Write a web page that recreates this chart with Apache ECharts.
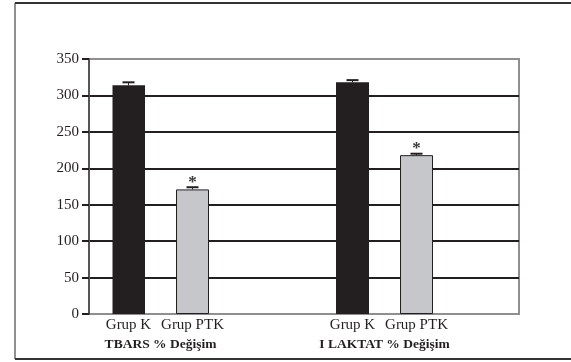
<!DOCTYPE html>
<html>
<head>
<meta charset="utf-8">
<script src="https://cdn.jsdelivr.net/npm/echarts@6/dist/echarts.min.js"></script>
<style>
  html, body { margin: 0; padding: 0; background: #fff; }
  #chart { width: 571px; height: 362px; }
</style>
</head>
<body>
<div id="chart"></div>
<script>
// Percent change per measurement, control vs PTK group
const groupTitles = ["TBARS % Değişim", "I LAKTAT % Değişim"];
const groupNames = ["Grup K", "Grup PTK"];
const tbarsMeans = [314, 171];
const tbarsErrors = [4, 3];
const laktatMeans = [318, 218];
const laktatErrors = [3, 2];
const significant = [[false, true], [false, true]];
const yTicks = [0, 50, 100, 150, 200, 250, 300, 350];

const means = [tbarsMeans, laktatMeans];
const errors = [tbarsErrors, laktatErrors];
const barColors = ["#231f20", "#c6c7cb"];
const ink = "#231f20";
const serif = "'Liberation Serif', 'Times New Roman', serif";

// Slot layout: each group takes bar, gap, bar; groups separated by a wide gap
const slotsPerBar = 2;
const groupStride = 7;
const nSlots = 10;
const slotLabels = new Array(nSlots).fill("");
const slotTitles = new Array(nSlots).fill("");
const barData = new Array(nSlots).fill("-");
const errData = [];
groupTitles.forEach((title, g) => {
  const base = g * groupStride;
  slotTitles[base + 1] = title;
  groupNames.forEach((name, b) => {
    const idx = base + b * slotsPerBar;
    slotLabels[idx] = name;
    barData[idx] = {
      value: means[g][b],
      itemStyle: {
        color: barColors[b],
        borderColor: b === 1 ? ink : barColors[b],
        borderWidth: b === 1 ? 1 : 0
      }
    };
    errData.push([idx, means[g][b], errors[g][b], significant[g][b] ? 1 : 0]);
  });
});

const chart = echarts.init(document.getElementById('chart'), null, { renderer: 'canvas' });

chart.setOption({
  animation: false,
  backgroundColor: '#fff',
  graphic: [
    { type: 'line', shape: { x1: 15, y1: 3, x2: 15, y2: 359 }, style: { stroke: '#6b6b6b', lineWidth: 1.5 } },
    { type: 'line', shape: { x1: 15, y1: 3, x2: 571, y2: 3 }, style: { stroke: '#333', lineWidth: 2 } },
    { type: 'line', shape: { x1: 15, y1: 359, x2: 571, y2: 359 }, style: { stroke: '#333', lineWidth: 2 } }
  ],
  grid: [
    { left: 89, top: 59, right: 52, bottom: 48, show: true, borderColor: '#8f8f8f', borderWidth: 2, backgroundColor: 'transparent' },
    { left: 112.5, top: 59, right: 138.5, bottom: 48 }
  ],
  xAxis: [
    { gridIndex: 0, type: 'value', show: false, min: 0, max: 1 },
    {
      gridIndex: 1, type: 'category', data: slotLabels,
      axisLine: { show: false }, axisTick: { show: false }, splitLine: { show: false },
      axisLabel: { interval: 0, margin: 4, color: ink, fontFamily: serif, fontSize: 15 }
    },
    {
      gridIndex: 1, type: 'category', data: slotTitles, position: 'bottom', offset: 20,
      axisLine: { show: false }, axisTick: { show: false }, splitLine: { show: false },
      axisLabel: { interval: 0, margin: 4, color: ink, fontFamily: serif, fontSize: 13.5, fontWeight: 'bold' }
    }
  ],
  yAxis: [
    {
      gridIndex: 0, type: 'value', min: yTicks[0], max: yTicks[yTicks.length - 1], interval: 50,
      axisLine: { show: true, lineStyle: { color: '#555', width: 2 } },
      axisTick: { show: true, length: 7, lineStyle: { color: ink, width: 2 } },
      axisLabel: { margin: 10, color: ink, fontFamily: serif, fontSize: 15 },
      splitLine: { show: true, showMinLine: false, showMaxLine: false, lineStyle: { color: ink, width: 2 } }
    },
    { gridIndex: 1, type: 'value', min: yTicks[0], max: yTicks[yTicks.length - 1], show: false }
  ],
  series: [
    {
      type: 'bar', xAxisIndex: 1, yAxisIndex: 1, barWidth: 33,
      data: barData, z: 3
    },
    {
      type: 'custom', xAxisIndex: 1, yAxisIndex: 1, z: 4,
      data: errData,
      renderItem: function (params, api) {
        const x = api.value(0);
        const top = api.coord([x, api.value(1) + api.value(2)]);
        const base = api.coord([x, api.value(1)]);
        const children = [
          { type: 'line', shape: { x1: top[0], y1: top[1], x2: base[0], y2: base[1] }, style: { stroke: ink, lineWidth: 1 } },
          { type: 'line', shape: { x1: top[0] - 6, y1: top[1], x2: top[0] + 6, y2: top[1] }, style: { stroke: ink, lineWidth: 2 } }
        ];
        if (api.value(3)) {
          children.push({
            type: 'text',
            style: { text: '*', x: top[0], y: top[1] - 5, align: 'center', verticalAlign: 'middle', fill: '#3a3a3a', font: 'bold 17px ' + serif }
          });
        }
        return { type: 'group', children: children };
      }
    }
  ]
});
</script>
</body>
</html>
